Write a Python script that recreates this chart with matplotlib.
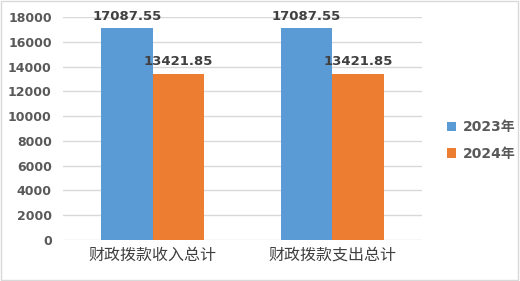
import matplotlib
matplotlib.use("Agg")
import matplotlib.pyplot as plt
from matplotlib.patches import Rectangle
import numpy as np

categories = ["财政拨款收入总计", "财政拨款支出总计"]
series_names = ["2023年", "2024年"]
values_2023 = [17087.55, 17087.55]
values_2024 = [13421.85, 13421.85]
yticks = [0, 2000, 4000, 6000, 8000, 10000, 12000, 14000, 16000, 18000]

plt.rcParams['font.family'] = ['DejaVu Sans', 'Noto Sans CJK SC']
colors = ["#5B9BD5", "#ED7D31"]
txt = "#595959"

fig = plt.figure(figsize=(5.2, 2.81), dpi=100)
fig.patches.append(Rectangle((0.002, 0.003), 0.995, 0.993, transform=fig.transFigure,
                             fill=False, edgecolor="#D9D9D9", linewidth=1))
ax = fig.add_axes([0.121, 0.146, 0.691, 0.7935])

x = np.arange(len(categories))
w = 0.287
b1 = ax.bar(x - w/2, values_2023, w, color=colors[0], label=series_names[0], zorder=3)
b2 = ax.bar(x + w/2, values_2024, w, color=colors[1], label=series_names[1], zorder=3)

for bars, vals in ((b1, values_2023), (b2, values_2024)):
    for r, v in zip(bars, vals):
        ax.annotate(f"{v:.2f}", (r.get_x() + r.get_width()/2, v), xytext=(0, 4),
                    textcoords="offset points", ha="center", va="bottom",
                    fontsize=9.5, fontweight="bold", color="#404040",
                    family="DejaVu Sans")

ax.set_xlim(-0.5, 1.5)
ax.set_ylim(0, 18000)
ax.set_yticks(yticks)
ax.set_yticklabels([str(t) for t in yticks], fontsize=9, fontweight="bold", color=txt)
ax.set_xticks(x)
ax.set_xticklabels(categories, fontsize=11.5, color="#404040", family="Noto Sans CJK SC")
ax.tick_params(axis="both", length=0)
ax.tick_params(axis="y", pad=8)
ax.tick_params(axis="x", pad=5)
ax.grid(axis="y", color="#D9D9D9", linewidth=1, zorder=0)
for s in ax.spines.values():
    s.set_visible(False)

leg = fig.legend(handles=[b1, b2], labels=series_names, loc="center left",
                 bbox_to_anchor=(0.835, 0.50), frameon=False, handlelength=0.7,
                 handleheight=0.7, handletextpad=0.5, labelspacing=0.9,
                 prop={"family": ["DejaVu Sans", "Noto Sans CJK SC"], "size": 10,
                       "weight": "bold"})
for t in leg.get_texts():
    t.set_color(txt)

fig.savefig("out.png", dpi=100)
